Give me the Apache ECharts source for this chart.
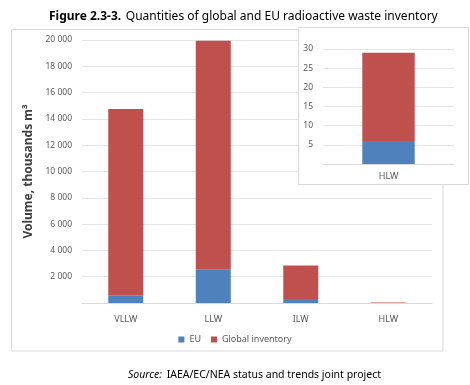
<!DOCTYPE html>
<html><head><meta charset="utf-8">
<script src="https://cdn.jsdelivr.net/npm/echarts@6/dist/echarts.min.js"></script>
<style>html,body{margin:0;padding:0;background:#fff}#c{width:470px;height:385px}</style>
</head><body><div id="c"></div>
<script>
var categories = ['VLLW', 'LLW', 'ILW', 'HLW'];
var euValues = [580, 2530, 300, 6];
var globalValues = [14170, 17420, 2560, 23];
var insetCategories = ['HLW'];
var insetEu = [6];
var insetGlobal = [23];
var seriesNames = ['EU', 'Global inventory'];

var FONT = 'Noto Sans';
var BLUE = '#4F81BD', RED = '#C0504D';
function fmt(v){ if (v === 0) return ''; return String(v).replace(/\B(?=(\d{3})+(?!\d))/g, ' '); }

var chart = echarts.init(document.getElementById('c'), null, {renderer:'canvas'});
chart.setOption({
  animation: false,
  textStyle: {fontFamily: FONT},
  title: [{
    text: '{b|Figure 2.3-3.} {n|Quantities of global and EU radioactive waste inventory}',
    left: 44, top: 3,
    textStyle: {fontWeight: 'normal', rich: {b: {fontFamily: FONT, fontWeight: 'bold', fontSize: 12, color: '#000'}, n: {fontFamily: FONT, fontWeight: 'normal', fontSize: 12, color: '#000'}}}
  }, {
    text: '{i|Source:} {n|IAEA/EC/NEA status and trends joint project}',
    left: 123, top: 361,
    textStyle: {fontWeight: 'normal', rich: {i: {fontFamily: FONT, fontStyle: 'italic', fontWeight: 'normal', fontSize: 10.5, color: '#000'}, n: {fontFamily: FONT, fontWeight: 'normal', fontSize: 10.5, color: '#000'}}}
  }],
  graphic: [
    {type: 'rect', shape: {x: 11.5, y: 29.5, width: 431.5, height: 321.5}, style: {fill: 'none', stroke: '#d9d9d9', lineWidth: 1}, z: -10},
    {type: 'rect', shape: {x: 298.5, y: 27.5, width: 170, height: 157}, style: {fill: '#fff', stroke: '#d9d9d9', lineWidth: 1}, z: 3}
  ],
  legend: {
    data: seriesNames, left: 'center', top: 330,
    itemWidth: 6, itemHeight: 6, itemGap: 10, icon: 'rect',
    textStyle: {fontSize: 9, color: '#595959', fontFamily: FONT}
  },
  grid: [
    {left: 82, top: 40, width: 350, height: 263},
    {left: 323, top: 49, width: 131, height: 115, z: 5}
  ],
  xAxis: [
    {type: 'category', gridIndex: 0, data: categories,
     axisLine: {lineStyle: {color: '#d9d9d9'}}, axisTick: {show: false},
     axisLabel: {fontSize: 9, color: '#595959', margin: 12}},
    {type: 'category', gridIndex: 1, data: insetCategories, z: 5,
     axisLine: {lineStyle: {color: '#d9d9d9'}}, axisTick: {show: false},
     axisLabel: {fontSize: 9, color: '#595959', margin: 8}}
  ],
  yAxis: [
    {type: 'value', gridIndex: 0, min: 0, max: 20000, interval: 2000,
     name: 'Volume, thousands m³', nameLocation: 'middle', nameGap: 38,
     nameTextStyle: {fontSize: 12, fontWeight: 'bold', color: '#404040'},
     axisLine: {show: false}, axisTick: {show: false},
     axisLabel: {fontSize: 8.5, color: '#595959', formatter: fmt, margin: 10},
     splitLine: {lineStyle: {color: '#e5e5e5'}}},
    {type: 'value', gridIndex: 1, min: 0, max: 30, interval: 5, z: 5,
     axisLine: {show: false}, axisTick: {show: false},
     axisLabel: {fontSize: 8.5, color: '#595959', formatter: fmt, margin: 10},
     splitLine: {lineStyle: {color: '#e5e5e5'}}}
  ],
  series: [
    {name: seriesNames[0], type: 'bar', stack: 'a', xAxisIndex: 0, yAxisIndex: 0, data: euValues, barWidth: '40%', itemStyle: {color: BLUE}},
    {name: seriesNames[1], type: 'bar', stack: 'a', xAxisIndex: 0, yAxisIndex: 0, data: globalValues, barWidth: '40%', itemStyle: {color: RED}},
    {name: seriesNames[0], type: 'bar', stack: 'b', xAxisIndex: 1, yAxisIndex: 1, data: insetEu, barWidth: '40%', itemStyle: {color: BLUE}, z: 6},
    {name: seriesNames[1], type: 'bar', stack: 'b', xAxisIndex: 1, yAxisIndex: 1, data: insetGlobal, barWidth: '40%', itemStyle: {color: RED}, z: 6}
  ]
});
</script></body></html>
